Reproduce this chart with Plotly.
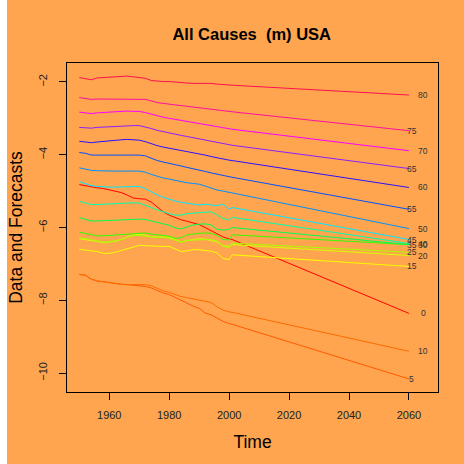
import plotly.graph_objects as go

# ---------------- data ----------------
hist_years = list(range(1950, 2001, 2))
fc_years = [2001, 2060]
ages = [0, 5, 10, 15, 20, 25, 30, 35, 40, 45, 50, 55, 60, 65, 70, 75, 80]

m0 = [-4.82, -4.85, -4.90, -4.91, -4.93, -4.96, -5.00, -5.04, -5.11, -5.19, -5.21, -5.22, -5.30,
      -5.43, -5.57, -5.66, -5.73, -5.79, -5.83, -5.88, -5.92, -6.00, -6.08, -6.18, -6.26, -6.31]
m5 = [-7.29, -7.31, -7.42, -7.47, -7.49, -7.52, -7.55, -7.56, -7.57, -7.58, -7.60, -7.62, -7.66,
      -7.74, -7.80, -7.84, -7.92, -8.02, -8.10, -8.16, -8.22, -8.35, -8.40, -8.50, -8.58, -8.64]
m10 = [-7.29, -7.31, -7.42, -7.47, -7.49, -7.52, -7.55, -7.56, -7.57, -7.57, -7.58, -7.57, -7.60,
       -7.68, -7.74, -7.78, -7.84, -7.90, -7.93, -7.96, -8.00, -8.04, -8.06, -8.18, -8.27, -8.32]
m15 = [-6.60, -6.62, -6.65, -6.66, -6.71, -6.71, -6.68, -6.63, -6.58, -6.52, -6.49, -6.50, -6.51,
       -6.53, -6.52, -6.52, -6.58, -6.66, -6.64, -6.61, -6.61, -6.63, -6.65, -6.70, -6.85, -6.88]
m20 = [-6.31, -6.33, -6.34, -6.38, -6.42, -6.41, -6.38, -6.33, -6.26, -6.20, -6.19, -6.21, -6.26,
       -6.26, -6.24, -6.26, -6.33, -6.40, -6.36, -6.33, -6.31, -6.32, -6.35, -6.40, -6.50, -6.52]
m25 = [-6.28, -6.30, -6.33, -6.37, -6.40, -6.40, -6.37, -6.33, -6.27, -6.22, -6.22, -6.24, -6.28,
       -6.28, -6.27, -6.29, -6.35, -6.40, -6.35, -6.34, -6.33, -6.32, -6.33, -6.37, -6.52, -6.55]
m30 = [-6.13, -6.16, -6.21, -6.23, -6.23, -6.22, -6.21, -6.19, -6.17, -6.16, -6.15, -6.15, -6.18,
       -6.20, -6.22, -6.24, -6.30, -6.28, -6.20, -6.17, -6.16, -6.15, -6.16, -6.22, -6.33, -6.34]
m35 = [-5.73, -5.78, -5.82, -5.82, -5.81, -5.80, -5.79, -5.78, -5.77, -5.77, -5.77, -5.78, -5.82,
       -5.86, -5.90, -5.94, -6.01, -6.04, -5.98, -5.93, -5.91, -5.90, -5.93, -6.05, -6.07, -6.05]
m40 = [-5.28, -5.33, -5.37, -5.37, -5.36, -5.36, -5.35, -5.34, -5.33, -5.32, -5.33, -5.38, -5.45,
       -5.52, -5.58, -5.62, -5.66, -5.66, -5.62, -5.60, -5.59, -5.58, -5.57, -5.66, -5.75, -5.80]
m45 = [-4.74, -4.80, -4.85, -4.87, -4.89, -4.89, -4.89, -4.88, -4.87, -4.86, -4.87, -4.93, -5.02,
       -5.10, -5.17, -5.23, -5.27, -5.31, -5.34, -5.37, -5.38, -5.36, -5.37, -5.40, -5.36, -5.50]
m50 = [-4.36, -4.40, -4.43, -4.44, -4.45, -4.45, -4.45, -4.45, -4.44, -4.45, -4.45, -4.48, -4.54,
       -4.60, -4.64, -4.67, -4.71, -4.74, -4.77, -4.79, -4.81, -4.86, -4.92, -4.97, -5.00, -5.03]
m55 = [-3.94, -3.96, -4.01, -4.01, -4.01, -4.01, -4.00, -4.00, -4.01, -4.01, -4.01, -4.03, -4.10,
       -4.16, -4.20, -4.23, -4.28, -4.31, -4.35, -4.38, -4.41, -4.46, -4.50, -4.54, -4.57, -4.60]
m60 = [-3.63, -3.64, -3.67, -3.65, -3.63, -3.62, -3.61, -3.59, -3.58, -3.59, -3.60, -3.64, -3.70,
       -3.75, -3.79, -3.82, -3.86, -3.89, -3.92, -3.94, -3.96, -4.01, -4.05, -4.09, -4.12, -4.15]
m65 = [-3.25, -3.26, -3.27, -3.25, -3.24, -3.23, -3.22, -3.21, -3.20, -3.20, -3.20, -3.23, -3.28,
       -3.33, -3.37, -3.40, -3.44, -3.47, -3.50, -3.53, -3.56, -3.60, -3.63, -3.66, -3.70, -3.73]
m70 = [-2.83, -2.85, -2.87, -2.85, -2.84, -2.82, -2.82, -2.81, -2.80, -2.81, -2.81, -2.84, -2.89,
       -2.93, -2.97, -3.00, -3.03, -3.06, -3.09, -3.12, -3.14, -3.18, -3.21, -3.24, -3.27, -3.29]
m75 = [-2.43, -2.45, -2.48, -2.47, -2.47, -2.47, -2.46, -2.47, -2.46, -2.47, -2.47, -2.48, -2.52,
       -2.57, -2.59, -2.61, -2.63, -2.64, -2.66, -2.68, -2.70, -2.73, -2.76, -2.78, -2.80, -2.81]
m80 = [-1.88, -1.90, -1.94, -1.89, -1.88, -1.87, -1.86, -1.85, -1.84, -1.86, -1.87, -1.90, -1.96,
       -1.98, -1.99, -1.99, -2.01, -2.02, -2.03, -2.04, -2.04, -2.03, -2.04, -2.06, -2.07, -2.08]

# forecast values at 2001 and 2060, in the order of `ages`
fc_start = [-6.33, -8.66, -8.33, -6.75, -6.47, -6.43, -6.20, -6.00, -5.72, -5.45,
            -5.05, -4.62, -4.16, -3.74, -3.30, -2.82, -2.09]
fc_end = [-8.36, -10.16, -9.40, -7.07, -6.77, -6.68, -6.47, -6.47, -6.44, -6.33,
          -6.03, -5.50, -4.90, -4.38, -3.89, -3.34, -2.36]

x_ticks = [1960, 1980, 2000, 2020, 2040, 2060]
y_ticks = [-10, -8, -6, -4, -2]

hist = [m0, m5, m10, m15, m20, m25, m30, m35, m40, m45, m50, m55, m60, m65, m70, m75, m80]

colors = ["#FF0000", "#FF5A00", "#FF6A00", "#FFFF00", "#D8FF00", "#A8FF00", "#30FF00",
          "#00FF50", "#00FFB0", "#00E8FF", "#0090FF", "#0050FF", "#2A10FF", "#8A20FF",
          "#FF00FF", "#FF10A0", "#FF1050"]

BG = "#FFA54F"
fig = go.Figure()
for i, age in enumerate(ages):
    xs = hist_years + fc_years
    ys = hist[i] + [fc_start[i], fc_end[i]]
    fig.add_trace(go.Scatter(x=xs, y=ys, mode="lines", name=str(age),
                             line=dict(color=colors[i], width=1), showlegend=False,
                             hoverinfo="skip"))
    lx = fc_years[-1] + (4.7 if i % 2 == 0 else 1.0)
    fig.add_annotation(x=lx, y=fc_end[i], text=str(age), showarrow=False,
                       xanchor="center", yanchor="middle",
                       font=dict(size=8.5, color="#333333", family="Liberation Sans, Arial"))

fig.add_shape(type="rect", xref="paper", yref="paper", x0=-0.5, x1=-0.1617, y0=-0.5, y1=1.5,
              fillcolor="white", line=dict(width=0), layer="below")

axis_common = dict(showgrid=False, zeroline=False, showline=True, linecolor="black",
                   linewidth=1, mirror=True, ticks="outside", ticklen=7, tickcolor="black",
                   tickwidth=1, tickfont=dict(size=11, color="#222222"), automargin=False)

fig.update_layout(
    width=464, height=464,
    paper_bgcolor=BG, plot_bgcolor=BG,
    margin=dict(l=67, r=26, t=63, b=72, autoexpand=False),
    font=dict(family="Liberation Sans, Arial, sans-serif", color="black"),
    title=dict(text="<b>All Causes  (m) USA</b>", x=0.5425, xanchor="center",
               y=1 - 34 / 464, yanchor="middle", font=dict(size=16.5, color="black")),
    xaxis=dict(range=[1945.9, 2069.7], tickvals=x_ticks, ticklabelstandoff=6,
               title=dict(text="Time", font=dict(size=17.5), standoff=15),
               **axis_common),
    yaxis=dict(range=[-10.52, -1.48], tickvals=y_ticks, tickangle=-90,
               ticklabelstandoff=8,
               title=dict(text="Data and Forecasts", font=dict(size=17.5), standoff=9),
               **axis_common),
)

fig.write_html("out.html", config={"displayModeBar": False},
               post_script="document.body.style.margin='0';")
